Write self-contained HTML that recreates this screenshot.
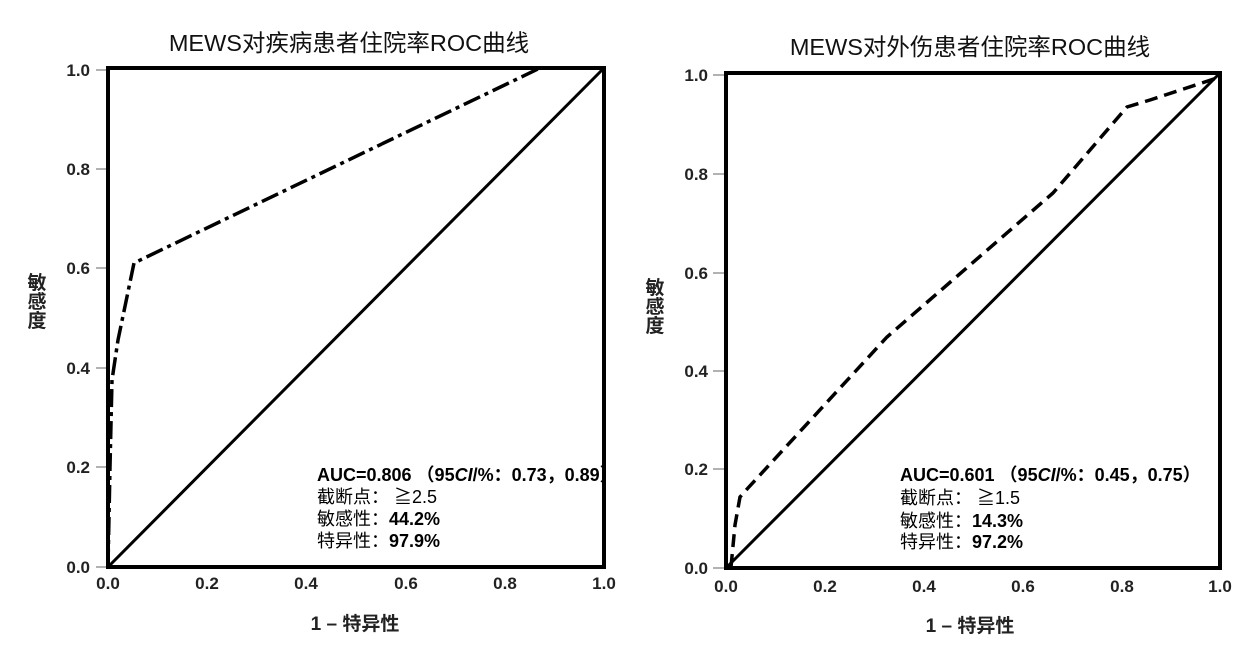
<!DOCTYPE html>
<html><head><meta charset="utf-8"><style>
body{margin:0;background:#fff;}
svg{display:block;font-family:"Liberation Sans","Noto Sans CJK SC",sans-serif;}
.t{font-size:23.5px;fill:#111;}
.tk{font-size:17px;font-weight:bold;fill:#222;}
.ax{font-size:19px;font-weight:bold;fill:#222;}
.an{font-size:18px;fill:#000;}
</style></head><body>
<svg width="1244" height="659" viewBox="0 0 1244 659">
<!-- LEFT -->
<text class="t" x="349" y="51" text-anchor="middle">MEWS对疾病患者住院率ROC曲线</text>
<g stroke="#999" stroke-width="1.5">
<line x1="96" y1="70" x2="107" y2="70"/><line x1="96" y1="169" x2="107" y2="169"/><line x1="96" y1="268" x2="107" y2="268"/><line x1="96" y1="368" x2="107" y2="368"/><line x1="96" y1="467" x2="107" y2="467"/><line x1="96" y1="567" x2="107" y2="567"/>
</g>
<g class="tk" text-anchor="end">
<text x="90" y="76">1.0</text><text x="90" y="175">0.8</text><text x="90" y="274">0.6</text><text x="90" y="374">0.4</text><text x="90" y="473">0.2</text><text x="90" y="573">0.0</text>
</g>
<g class="tk" text-anchor="middle">
<text x="108" y="589">0.0</text><text x="207" y="589">0.2</text><text x="306" y="589">0.4</text><text x="406" y="589">0.6</text><text x="505" y="589">0.8</text><text x="604" y="589">1.0</text>
</g>
<rect x="108" y="68" width="496" height="499" fill="none" stroke="#000" stroke-width="4"/>
<line x1="108" y1="567" x2="604" y2="68" stroke="#000" stroke-width="3"/>
<polyline points="108,567 110,467 112,380 118,340 134,263 540,68 604,68" fill="none" stroke="#000" stroke-width="3.5" stroke-dasharray="18,5,4,5"/>
<g class="ax" text-anchor="middle"><text x="37" y="289">敏</text><text x="37" y="308">感</text><text x="37" y="327">度</text></g>
<text class="ax" x="355" y="630" text-anchor="middle">1 – 特异性</text>
<g class="an">
<text x="317" y="481"><tspan font-weight="bold">AUC=0.806 （95<tspan font-style="italic">CI</tspan>/%：0.73，0.89）</tspan></text>
<text x="317" y="503">截断点： ≧2.5</text>
<text x="317" y="525">敏感性：<tspan font-weight="bold">44.2%</tspan></text>
<text x="317" y="547">特异性：<tspan font-weight="bold">97.9%</tspan></text>
</g>
<!-- RIGHT -->
<text class="t" x="970" y="55" text-anchor="middle">MEWS对外伤患者住院率ROC曲线</text>
<g stroke="#999" stroke-width="1.5">
<line x1="713" y1="75" x2="726" y2="75"/><line x1="713" y1="174" x2="726" y2="174"/><line x1="713" y1="273" x2="726" y2="273"/><line x1="713" y1="371" x2="726" y2="371"/><line x1="713" y1="469" x2="726" y2="469"/><line x1="713" y1="568" x2="726" y2="568"/>
</g>
<g class="tk" text-anchor="end">
<text x="708" y="81">1.0</text><text x="708" y="180">0.8</text><text x="708" y="279">0.6</text><text x="708" y="377">0.4</text><text x="708" y="475">0.2</text><text x="708" y="574">0.0</text>
</g>
<g class="tk" text-anchor="middle">
<text x="726" y="592">0.0</text><text x="825" y="592">0.2</text><text x="924" y="592">0.4</text><text x="1023" y="592">0.6</text><text x="1122" y="592">0.8</text><text x="1220" y="592">1.0</text>
</g>
<rect x="726" y="73" width="494" height="495" fill="none" stroke="#000" stroke-width="4"/>
<line x1="726" y1="568" x2="1220" y2="73" stroke="#000" stroke-width="3"/>
<polyline points="731,567 735,525 740,497 748,488 887,337 1053,193 1127,107 1150,100 1217,78" fill="none" stroke="#000" stroke-width="3.5" stroke-dasharray="13,7"/>
<g class="ax" text-anchor="middle"><text x="655" y="294">敏</text><text x="655" y="313">感</text><text x="655" y="332">度</text></g>
<text class="ax" x="970" y="632" text-anchor="middle">1 – 特异性</text>
<g class="an">
<text x="900" y="481"><tspan font-weight="bold">AUC=0.601 （95<tspan font-style="italic">CI</tspan>/%：0.45，0.75）</tspan></text>
<text x="900" y="504">截断点： ≧1.5</text>
<text x="900" y="527">敏感性：<tspan font-weight="bold">14.3%</tspan></text>
<text x="900" y="548">特异性：<tspan font-weight="bold">97.2%</tspan></text>
</g>
</svg>
</body></html>
